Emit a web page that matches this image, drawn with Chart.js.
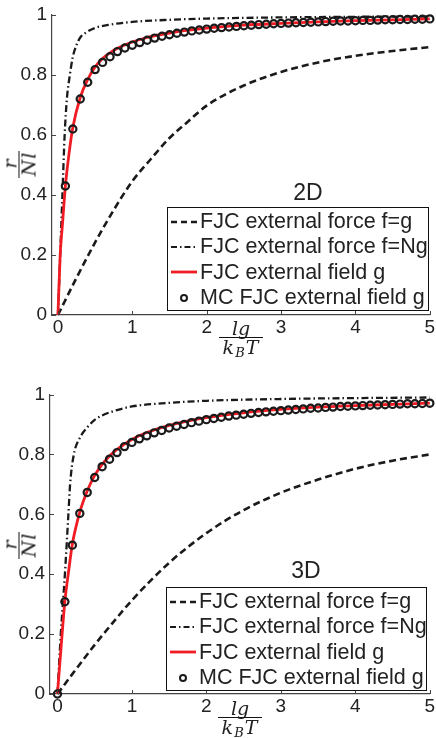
<!DOCTYPE html>
<html>
<head>
<meta charset="utf-8">
<script src="https://cdn.jsdelivr.net/npm/chart.js@4.4.1/dist/chart.umd.min.js"></script>
<style>
  body { margin: 0; background: #fff; width: 436px; height: 738px; overflow: hidden; position: relative;
         font-family: "Liberation Sans", Arial, sans-serif; color: #222; }
  canvas { position: absolute; left: 0; }
  .dim { position: absolute; width: 80px; text-align: center; font-size: 23px; line-height: 23px; }
  .legend { position: absolute; box-sizing: border-box; border: 1.3px solid #111; background: #fff;
            font-size: 21.5px; padding-top: 1px; }
  .legend .row { height: 25.3px; display: flex; align-items: center; white-space: nowrap; }
  .legend svg { margin-left: 3px; margin-right: 3px; flex: none; }
  .frac { position: absolute; display: flex; flex-direction: column; align-items: center;
          font-family: "DejaVu Serif", "Liberation Serif", serif; font-style: italic; font-size: 19px; }
  .frac .num { line-height: 17px; }
  .frac .den { border-top: 1.5px solid #111; line-height: 19px; text-align: center; letter-spacing: 1px; }
  .frac sub { font-size: 13px; vertical-align: -3px; }
</style>
</head>
<body>
<canvas id="top2d" width="436" height="369" style="top:0"></canvas>
<canvas id="bot3d" width="436" height="369" style="top:369px"></canvas>

<div class="dim" style="left:268px;top:181px">2D</div>
<div class="dim" style="left:266px;top:559px">3D</div>

<div class="frac" style="left:219px;top:320px"><span class="num">lg</span><span class="den" style="width:44px">k<sub>B</sub>T</span></div>
<div class="frac" style="left:218px;top:700px"><span class="num">lg</span><span class="den" style="width:44px">k<sub>B</sub>T</span></div>
<div class="frac" style="left:20px;top:164px;transform:translate(-50%,-50%) rotate(-90deg)"><span class="num">r</span><span class="den" style="width:27px">Nl</span></div>
<div class="frac" style="left:20px;top:545px;transform:translate(-50%,-50%) rotate(-90deg)"><span class="num">r</span><span class="den" style="width:27px">Nl</span></div>

<div class="legend" id="leg2d" style="left:167px;top:207px;width:262px;height:104px"></div>
<div class="legend" id="leg3d" style="left:166px;top:587px;width:261px;height:104px"></div>

<script>
// axis ticks
const xTicks = [0, 1, 2, 3, 4, 5];
const yTicks = [0, 0.2, 0.4, 0.6, 0.8, 1];
const yTickLabels = ['0', '0.2', '0.4', '0.6', '0.8', '1'];

const seriesNames = ['FJC external force f=g', 'FJC external force f=Ng', 'FJC external field g', 'MC FJC external field g'];

// ---- 2D panel ----
const forceX2D = [0, 0.25, 0.5, 0.75, 1, 1.25, 1.5, 1.75, 2, 2.5, 3, 3.5, 4, 4.5, 5];
const force2D  = [0, 0.124, 0.242, 0.35, 0.446, 0.52, 0.59, 0.645, 0.698, 0.765, 0.81, 0.842, 0.864, 0.88, 0.893];

const forceNX2D = [0, 0.03, 0.06, 0.09, 0.12, 0.16, 0.2, 0.25, 0.3, 0.4, 0.5, 0.7, 1, 1.5, 2, 3, 4, 5];
const forceN2D  = [0, 0.2, 0.4, 0.6, 0.72, 0.8, 0.86, 0.9, 0.925, 0.945, 0.957, 0.968, 0.977, 0.984, 0.988, 0.992, 0.994, 0.995];

const fieldX2D = [0, 0.03, 0.06, 0.1, 0.15, 0.2, 0.3, 0.4, 0.5, 0.6, 0.7, 0.8, 1, 1.2, 1.5, 2, 2.5, 3, 3.5, 4, 4.5, 5];
const field2D  = [0, 0.2, 0.3, 0.43, 0.54, 0.625, 0.725, 0.785, 0.827, 0.855, 0.874, 0.889, 0.91, 0.925, 0.94, 0.956, 0.966, 0.972, 0.977, 0.981, 0.984, 0.987];

const mcX2D = [0.1, 0.2, 0.3, 0.4, 0.5, 0.6, 0.7, 0.8, 0.9, 1.0,
               1.1, 1.2, 1.3, 1.4, 1.5, 1.6, 1.7, 1.8, 1.9, 2.0,
               2.1, 2.2, 2.3, 2.4, 2.5, 2.6, 2.7, 2.8, 2.9, 3.0,
               3.1, 3.2, 3.3, 3.4, 3.5, 3.6, 3.7, 3.8, 3.9, 4.0,
               4.1, 4.2, 4.3, 4.4, 4.5, 4.6, 4.7, 4.8, 4.9, 5.0];
const mc2D = [0.43, 0.62, 0.72, 0.776, 0.818, 0.842, 0.861, 0.878, 0.89, 0.899,
              0.908, 0.916, 0.923, 0.929, 0.934, 0.939, 0.943, 0.947, 0.95, 0.953,
              0.956, 0.958, 0.96, 0.962, 0.964, 0.966, 0.968, 0.969, 0.971, 0.972,
              0.973, 0.974, 0.975, 0.976, 0.977, 0.978, 0.979, 0.98, 0.98, 0.981,
              0.982, 0.982, 0.983, 0.984, 0.984, 0.985, 0.985, 0.986, 0.986, 0.987];

// ---- 3D panel ----
const forceX3D = [0, 0.25, 0.5, 0.75, 1, 1.5, 2, 2.5, 3, 3.5, 4, 4.5, 5];
const force3D  = [0, 0.083, 0.164, 0.24, 0.313, 0.438, 0.537, 0.614, 0.672, 0.716, 0.752, 0.779, 0.8];

const forceNX3D = [0, 0.045, 0.1, 0.147, 0.17, 0.22, 0.3, 0.4, 0.5, 0.6, 0.8, 1, 1.5, 2, 3, 4, 5];
const forceN3D  = [0, 0.2, 0.4, 0.6, 0.7, 0.8, 0.855, 0.89, 0.915, 0.93, 0.948, 0.96, 0.972, 0.979, 0.985, 0.988, 0.99];

const fieldX3D = [0, 0.05, 0.1, 0.15, 0.2, 0.3, 0.4, 0.5, 0.6, 0.7, 0.8, 1, 1.2, 1.5, 2, 2.5, 3, 3.5, 4, 4.5, 5];
const field3D  = [0, 0.16, 0.31, 0.41, 0.5, 0.607, 0.678, 0.73, 0.767, 0.795, 0.817, 0.85, 0.873, 0.897, 0.923, 0.939, 0.95, 0.958, 0.963, 0.967, 0.971];

const mcX3D = [0, 0.1, 0.2, 0.3, 0.4, 0.5, 0.6, 0.7, 0.8, 0.9, 1.0,
               1.1, 1.2, 1.3, 1.4, 1.5, 1.6, 1.7, 1.8, 1.9, 2.0,
               2.1, 2.2, 2.3, 2.4, 2.5, 2.6, 2.7, 2.8, 2.9, 3.0,
               3.1, 3.2, 3.3, 3.4, 3.5, 3.6, 3.7, 3.8, 3.9, 4.0,
               4.1, 4.2, 4.3, 4.4, 4.5, 4.6, 4.7, 4.8, 4.9, 5.0];
const mc3D = [0, 0.308, 0.497, 0.603, 0.673, 0.723, 0.759, 0.784, 0.806, 0.826, 0.84,
              0.852, 0.862, 0.872, 0.88, 0.888, 0.894, 0.9, 0.906, 0.911, 0.916,
              0.92, 0.924, 0.928, 0.931, 0.934, 0.937, 0.94, 0.942, 0.944, 0.946,
              0.948, 0.95, 0.952, 0.954, 0.955, 0.957, 0.958, 0.96, 0.961, 0.962,
              0.963, 0.964, 0.965, 0.966, 0.967, 0.968, 0.969, 0.969, 0.97, 0.971];

const BLACK = '#1a1a1a';
const RED = 'rgb(240,28,36)';
const DASH = [7, 4];
const DASHDOT = [7, 3, 1.5, 3];

function pts(xs, ys) {
    return xs.map((x, i) => ({ x: x, y: ys[i] }));
}

// MATLAB style inward tick marks
const inTicks = {
    id: 'inTicks',
    afterDraw(chart) {
        const { ctx, chartArea: a } = chart;
        const x = chart.scales.x, y = chart.scales.y;
        ctx.save();
        ctx.strokeStyle = '#444';
        ctx.lineWidth = 1;
        xTicks.forEach(v => {
            const px = Math.round(x.getPixelForValue(v)) + 0.5;
            ctx.beginPath(); ctx.moveTo(px, a.bottom); ctx.lineTo(px, a.bottom - 4); ctx.stroke();
        });
        yTicks.forEach(v => {
            const py = Math.round(y.getPixelForValue(v)) + 0.5;
            ctx.beginPath(); ctx.moveTo(a.left, py); ctx.lineTo(a.left + 4, py); ctx.stroke();
        });
        ctx.restore();
    }
};

function makeChart(id, d, box) {
    const ctx = document.getElementById(id).getContext('2d');
    return new Chart(ctx, {
        type: 'scatter',
        data: {
            datasets: [
                { label: seriesNames[3], data: pts(d.mcX, d.mc), showLine: false, order: 0,
                  pointRadius: 3.6, pointBorderWidth: 2.2, pointBorderColor: BLACK, pointBackgroundColor: 'rgba(0,0,0,0)', clip: false },
                { label: seriesNames[2], data: pts(d.fieldX, d.field), showLine: true, order: 1,
                  borderColor: RED, borderWidth: 2.8, pointRadius: 0, cubicInterpolationMode: 'monotone', clip: false },
                { label: seriesNames[0], data: pts(d.forceX, d.force), showLine: true, order: 2,
                  borderColor: BLACK, borderWidth: 2.6, borderDash: DASH, pointRadius: 0, cubicInterpolationMode: 'monotone', clip: false },
                { label: seriesNames[1], data: pts(d.forceNX, d.forceN), showLine: true, order: 3,
                  borderColor: BLACK, borderWidth: 2.3, borderDash: DASHDOT, pointRadius: 0, cubicInterpolationMode: 'monotone', clip: false }
            ]
        },
        options: {
            responsive: false,
            animation: false,
            devicePixelRatio: 1,
            layout: { padding: { left: 0, top: box.top, right: box.right, bottom: 0 } },
            plugins: { legend: { display: false }, tooltip: { enabled: false } },
            scales: {
                x: {
                    type: 'linear', min: box.xmin, max: 5,
                    grid: { display: false, drawTicks: false },
                    border: { display: true, color: '#444', width: 1.2 },
                    afterBuildTicks: s => { s.ticks = xTicks.map(v => ({ value: v })); },
                    afterFit: s => { s.height = box.xh; s.paddingLeft = 0; s.paddingRight = 0; },
                    ticks: { color: '#222', font: { family: '"Liberation Sans", Arial, sans-serif', size: 19 }, padding: 1,
                             maxRotation: 0, autoSkip: false, callback: v => String(v) }
                },
                y: {
                    type: 'linear', min: 0, max: 1,
                    grid: { display: false, drawTicks: false },
                    border: { display: true, color: '#444', width: 1.2 },
                    afterBuildTicks: s => { s.ticks = yTicks.map(v => ({ value: v })); },
                    afterFit: s => { s.width = box.yw; s.paddingTop = 0; s.paddingBottom = 0; },
                    ticks: { color: '#222', font: { family: '"Liberation Sans", Arial, sans-serif', size: 19 }, padding: 5,
                             autoSkip: false, callback: (v, i) => yTickLabels[i] }
                }
            }
        },
        plugins: [inTicks]
    });
}

makeChart('top2d', { mcX: mcX2D, mc: mc2D, fieldX: fieldX2D, field: field2D,
                     forceX: forceX2D, force: force2D, forceNX: forceNX2D, forceN: forceN2D },
          { top: 15, right: 3, xh: 54, yw: 52, xmin: -0.08 });
makeChart('bot3d', { mcX: mcX3D, mc: mc3D, fieldX: fieldX3D, field: field3D,
                     forceX: forceX3D, force: force3D, forceNX: forceNX3D, forceN: forceN3D },
          { top: 25.5, right: 4, xh: 44, yw: 50, xmin: -0.1 });

// legends
const samples = [
    '<line x1="0" y1="6" x2="26" y2="6" stroke="' + BLACK + '" stroke-width="2.5" stroke-dasharray="6,4"/>',
    '<line x1="0" y1="6" x2="26" y2="6" stroke="' + BLACK + '" stroke-width="2.2" stroke-dasharray="6,3,1.5,3"/>',
    '<line x1="0" y1="6" x2="26" y2="6" stroke="' + RED + '" stroke-width="2.8"/>',
    '<circle cx="13" cy="6" r="3" fill="none" stroke="' + BLACK + '" stroke-width="2"/>'
];
['leg2d', 'leg3d'].forEach(id => {
    const el = document.getElementById(id);
    el.innerHTML = seriesNames.map((name, i) =>
        '<div class="row"><svg width="26" height="12">' + samples[i] + '</svg><span>' + name + '</span></div>').join('');
});
</script>
</body>
</html>
